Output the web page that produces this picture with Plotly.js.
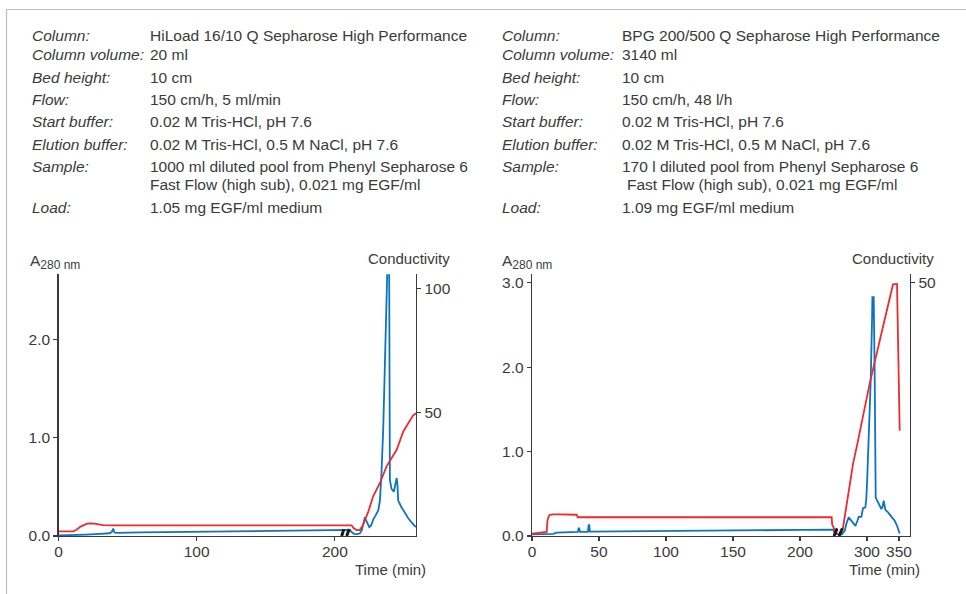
<!DOCTYPE html>
<html>
<head>
<meta charset="utf-8">
<script src="https://cdn.plot.ly/plotly-3.0.1.min.js"></script>
<style>
html,body{margin:0;padding:0;background:#fff;}
#chart{width:966px;height:594px;}
</style>
</head>
<body>
<div id="chart"></div>
<script>
// ---------- Left chart: HiLoad 16/10 ----------
const leftBlueTime = [0, 10, 20, 30, 37, 38.5, 39.6, 40.5, 42, 60, 100, 150, 200, 210.8, 212.5, 214, 216, 218, 219.5, 221.7, 223.2, 224.9, 226.3, 227.8, 229.5, 231.4, 232.6, 233.7, 235, 236.1, 237.9, 238.3, 238.9, 239.3, 239.8, 241.0, 242.7, 243.8, 244.7, 245.3, 245.8, 248.3, 251, 253.1, 256, 258.6];
const leftBlueA280 = [0.005, 0.008, 0.015, 0.022, 0.028, 0.04, 0.075, 0.035, 0.032, 0.036, 0.043, 0.052, 0.06, 0.062, 0.035, 0.022, 0.02, 0.025, 0.06, 0.19, 0.14, 0.09, 0.11, 0.17, 0.21, 0.26, 0.36, 0.63, 1.1, 1.65, 2.66, 2.9, 2.9, 2.66, 0.57, 0.48, 0.45, 0.55, 0.59, 0.52, 0.36, 0.29, 0.23, 0.18, 0.13, 0.09];
const leftRedTime = [0, 10.6, 13, 16, 20.3, 22.7, 26, 29, 32.3, 40, 60, 100, 150, 200, 212.1, 213.5, 215.7, 218.1, 220.5, 221.8, 224, 227.7, 229, 232.6, 237.4, 244.7, 249.5, 254.3, 256.5, 258.7];
const leftRedCond = [1.9, 1.9, 2.5, 3.8, 4.9, 5.1, 5.0, 4.6, 4.35, 4.25, 4.3, 4.3, 4.3, 4.3, 4.3, 3.2, 2.4, 2.4, 4.6, 6.6, 9.5, 16.0, 17.3, 21.4, 28.1, 34.8, 42.2, 46.9, 48.6, 49.5];
const leftXTicks = [0, 100, 200];
const leftYTicks = [0, 1, 2];
const leftYTickText = ['0.0', '1.0', '2.0'];
const leftCondTicks = [50, 100];
const leftBreakX = [[204.9, 206.5], [208.5, 210.4]];
const leftBreakY = [0, 0.07];

// ---------- Right chart: BPG 200/500 (broken time axis) ----------
const rightBlueTimeA = [0, 10, 15.9, 18.4, 25, 34.2, 34.8, 35.2, 35.8, 41.7, 42.3, 42.7, 43.2, 60, 100, 150, 200, 224.9, 226.1, 228.4];
const rightBlueA280A = [0.02, 0.022, 0.025, 0.04, 0.045, 0.048, 0.09, 0.09, 0.05, 0.05, 0.13, 0.13, 0.052, 0.055, 0.06, 0.067, 0.072, 0.075, 0.03, 0.02];
const rightBlueTimeB = [254.7, 260.9, 265.2, 268, 271.4, 275.6, 281.9, 285, 287.0, 291.2, 293.8, 297.5, 299, 300.6, 303, 305.8, 308.0, 308.4, 310.5, 311.2, 312.0, 313.6, 317.2, 322.5, 324.5, 326.1, 328.8, 332.9, 338, 343.3, 346.5, 348.4, 351.1];
const rightBlueA280B = [0.02, 0.02, 0.06, 0.15, 0.22, 0.18, 0.12, 0.18, 0.226, 0.226, 0.33, 0.34, 0.45, 0.73, 1.2, 1.84, 2.6, 2.83, 2.83, 2.5, 1.92, 0.455, 0.40, 0.32, 0.35, 0.42, 0.31, 0.28, 0.23, 0.18, 0.13, 0.08, 0.03];
const rightRedTimeA = [0, 11.0, 11.5, 12.5, 13.4, 15.9, 20, 33.3, 34.1, 60, 100, 150, 200, 223.7, 224.0, 226.6, 228.4];
const rightRedCondA = [0.46, 0.8, 3.0, 3.9, 4.16, 4.26, 4.26, 4.2, 3.7, 3.7, 3.7, 3.7, 3.7, 3.7, 2.3, 0.8, 0.3];
const rightRedTimeB = [254.7, 257, 262.5, 278.1, 285.9, 304.2, 322.5, 340.6, 346.9, 351.1];
const rightRedCondB = [0, 0.2, 1.6, 14.2, 18.8, 30.1, 40.0, 49.7, 49.8, 20.8];
const rightXTicksA = [0, 50, 100, 150, 200];
const rightXTicksB = [300, 350];
const rightYTicks = [0, 1, 2, 3];
const rightYTickText = ['0.0', '1.0', '2.0', '3.0'];
const rightCondTicks = [50];
const rightBreakXA = [225.4, 227.8];
const rightBreakXB = [256.3, 261.6];
const rightBreakY = [0, 0.09];

// ---------- Header texts ----------
const leftLabels = ['Column:', 'Column volume:', 'Bed height:', 'Flow:', 'Start buffer:', 'Elution buffer:', 'Sample:', '', 'Load:'];
const leftValues = ['HiLoad 16/10 Q Sepharose High Performance', '20 ml', '10 cm', '150 cm/h, 5 ml/min', '0.02 M Tris-HCl, pH 7.6', '0.02 M Tris-HCl, 0.5 M NaCl, pH 7.6', '1000 ml diluted pool from Phenyl Sepharose 6', 'Fast Flow (high sub), 0.021 mg EGF/ml', '1.05 mg EGF/ml medium'];
const rightLabels = ['Column:', 'Column volume:', 'Bed height:', 'Flow:', 'Start buffer:', 'Elution buffer:', 'Sample:', '', 'Load:'];
const rightValues = ['BPG 200/500 Q Sepharose High Performance', '3140 ml', '10 cm', '150 cm/h, 48 l/h', '0.02 M Tris-HCl, pH 7.6', '0.02 M Tris-HCl, 0.5 M NaCl, pH 7.6', '170 l diluted pool from Phenyl Sepharose 6', 'Fast Flow (high sub), 0.021 mg EGF/ml', '1.09 mg EGF/ml medium'];
const rowY = [35, 55, 77, 99.5, 121.5, 144, 166.5, 185, 207.5];

// ---------- Styling ----------
const W = 966, H = 594;
const FONT = 'Liberation Sans, Arial, sans-serif';
const TXT = '#3a3a3a';
const BLUE = '#0a74c2';
const RED = '#ee2a2e';
const AX = '#3a3a3a';
const px = v => v / W;
const py = v => (H - v) / H;

const yDom = [py(536), py(274.3)];
const axisCommon = {
  showline: true, linecolor: AX, linewidth: 1.3, showgrid: false, zeroline: false,
  ticks: 'outside', ticklen: 4, tickwidth: 1.1, tickcolor: AX,
  tickfont: {family: FONT, size: 15.5, color: TXT}, fixedrange: true
};
const xAxisExtra = {ticklabelstandoff: -3};

const traces = [
  {x: leftRedTime, y: leftRedCond, xaxis: 'x', yaxis: 'y2', type: 'scatter', mode: 'lines', line: {color: RED, width: 1.8}, hoverinfo: 'skip'},
  {x: leftBlueTime, y: leftBlueA280, xaxis: 'x', yaxis: 'y', type: 'scatter', mode: 'lines', line: {color: BLUE, width: 1.8}, hoverinfo: 'skip'},
  {x: rightRedTimeA, y: rightRedCondA, xaxis: 'x3', yaxis: 'y4', type: 'scatter', mode: 'lines', line: {color: RED, width: 1.8}, hoverinfo: 'skip'},
  {x: rightRedTimeB, y: rightRedCondB, xaxis: 'x4', yaxis: 'y4', type: 'scatter', mode: 'lines', line: {color: RED, width: 1.8}, hoverinfo: 'skip'},
  {x: rightBlueTimeA, y: rightBlueA280A, xaxis: 'x3', yaxis: 'y3', type: 'scatter', mode: 'lines', line: {color: BLUE, width: 1.8}, hoverinfo: 'skip'},
  {x: rightBlueTimeB, y: rightBlueA280B, xaxis: 'x4', yaxis: 'y3', type: 'scatter', mode: 'lines', line: {color: BLUE, width: 1.8}, hoverinfo: 'skip'}
];

const annotations = [];
function addText(text, x, y, anchor, size, italic) {
  annotations.push({text: italic ? '<i>' + text + '</i>' : text, xref: 'paper', yref: 'paper',
    x: px(x), y: py(y), xanchor: anchor, yanchor: 'middle', showarrow: false, borderpad: 0,
    font: {family: FONT, size: size, color: TXT}});
}
const HS = 15.5;
rowY.forEach((y, i) => {
  if (leftLabels[i]) addText(leftLabels[i], 31, y, 'left', HS, true);
  addText(leftValues[i], 149, y, 'left', HS, false);
  if (rightLabels[i]) addText(rightLabels[i], 501, y, 'left', HS, true);
  addText(rightValues[i], i === 7 ? 626 : 621, y, 'left', HS, false);
});
const aLabel = 'A<sub><span style="font-size:12px">280 nm</span></sub>';
addText(aLabel, 29, 262, 'left', 15.5, false);
addText('Conductivity', 451, 258, 'right', 15, false);
addText('Time (min)', 427, 569, 'right', 15, false);
addText(aLabel, 501, 262, 'left', 15.5, false);
addText('Conductivity', 935, 258, 'right', 15, false);
addText('Time (min)', 921, 569, 'right', 15, false);

const shapes = [
  {type: 'line', xref: 'paper', yref: 'paper', x0: px(6), x1: 1, y0: py(9.5), y1: py(9.5), line: {color: '#bdbdbd', width: 1.2}},
  {type: 'line', xref: 'paper', yref: 'paper', x0: px(6.5), x1: px(6.5), y0: py(9.5), y1: 0, line: {color: '#bdbdbd', width: 1.2}}
];
leftBreakX.forEach(seg => shapes.push({type: 'line', xref: 'x', yref: 'y', x0: seg[0], x1: seg[1], y0: leftBreakY[0], y1: leftBreakY[1], line: {color: '#1a1a1a', width: 3}}));
shapes.push({type: 'line', xref: 'x3', yref: 'y3', x0: rightBreakXA[0], x1: rightBreakXA[1], y0: rightBreakY[0], y1: rightBreakY[1], line: {color: '#1a1a1a', width: 3}});
shapes.push({type: 'line', xref: 'x4', yref: 'y3', x0: rightBreakXB[0], x1: rightBreakXB[1], y0: rightBreakY[0], y1: rightBreakY[1], line: {color: '#1a1a1a', width: 3}});

const layout = {
  width: W, height: H, margin: {l: 0, r: 0, t: 0, b: 0, pad: 0},
  paper_bgcolor: '#ffffff', plot_bgcolor: 'rgba(0,0,0,0)', showlegend: false,
  xaxis: Object.assign({}, axisCommon, xAxisExtra, {domain: [px(58.5), px(416)], range: [0, 258.7], anchor: 'y', tickvals: leftXTicks}),
  yaxis: Object.assign({}, axisCommon, {domain: yDom, range: [0, 2.662], anchor: 'x', tickvals: leftYTicks, ticktext: leftYTickText}),
  yaxis2: Object.assign({}, axisCommon, {overlaying: 'y', side: 'right', anchor: 'x', range: [0, 105.6], tickvals: leftCondTicks}),
  xaxis3: Object.assign({}, axisCommon, xAxisExtra, {domain: [px(532), px(838)], range: [0, 228.4], anchor: 'y3', tickvals: rightXTicksA}),
  xaxis4: Object.assign({}, axisCommon, xAxisExtra, {domain: [px(838), px(910)], range: [254.7, 367.2], anchor: 'y3', tickvals: rightXTicksB}),
  yaxis3: Object.assign({}, axisCommon, {domain: yDom, range: [0, 3.10], anchor: 'x3', tickvals: rightYTicks, ticktext: rightYTickText}),
  yaxis4: Object.assign({}, axisCommon, {overlaying: 'y3', side: 'right', anchor: 'x4', range: [0, 51.7], tickvals: rightCondTicks}),
  annotations: annotations,
  shapes: shapes
};

Plotly.newPlot('chart', traces, layout, {displayModeBar: false, staticPlot: true});
</script>
</body>
</html>
